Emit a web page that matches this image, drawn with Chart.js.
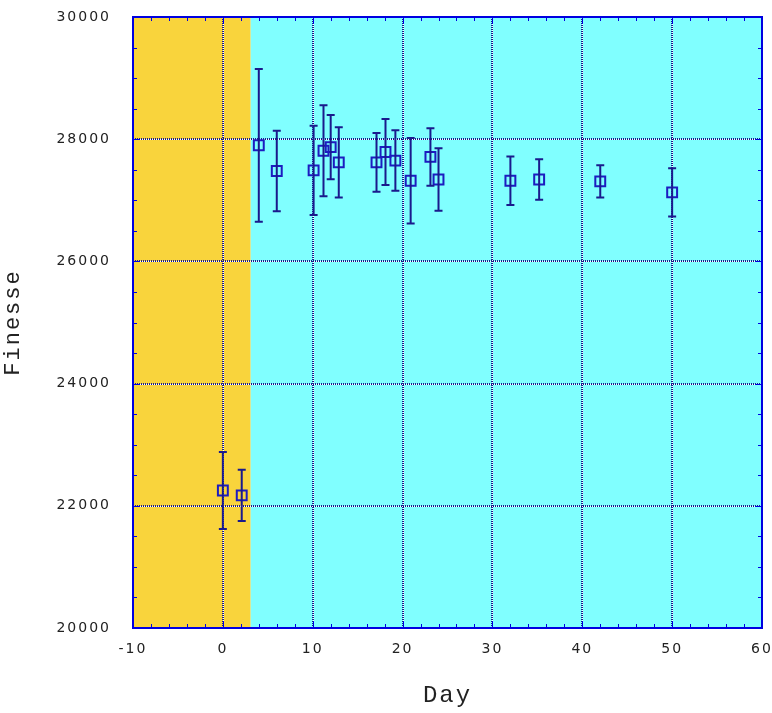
<!DOCTYPE html>
<html>
<head>
<meta charset="utf-8">
<script src="https://cdn.jsdelivr.net/npm/chart.js@4.4.1/dist/chart.umd.min.js"></script>
<style>
  html, body { margin: 0; padding: 0; background: #fff; }
  #wrap { width: 772px; height: 713px; }
</style>
</head>
<body>
<div id="wrap"><canvas id="myChart"></canvas></div>
<script>
// Datos
const days = [0, 2.1, 4, 6, 10.1, 11.2, 12, 12.9, 17.1, 18.1, 19.2, 20.9, 23.1, 24, 32, 35.2, 42, 50];
const finesse = [22250, 22170, 27900, 27480, 27490, 27810, 27870, 27620, 27620, 27790, 27650, 27320, 27710, 27340, 27320, 27340, 27310, 27130];
const errors = [630, 420, 1250, 660, 730, 745, 525, 575, 480, 540, 495, 700, 470, 510, 395, 330, 265, 395];

// Zonas de fondo (día inicial, día final)
const zoneEdges = [-10, 3.1, 60];
const zoneColors = ['#f9d43c', '#80ffff'];

const xTicks = [-10, 0, 10, 20, 30, 40, 50, 60];
const yTicks = [20000, 22000, 24000, 26000, 28000, 30000];

const navy = '#1a1a8c';
const blue = '#1c1cc0';

// Espaciado de letras como en el original
const spacingPlugin = {
  id: 'spacing',
  beforeLayout(chart) { chart.ctx.letterSpacing = '2px'; },
  beforeDraw(chart) { chart.ctx.letterSpacing = '2px'; }
};

// Fondo de colores y líneas blancas bajo la rejilla
const backgroundPlugin = {
  id: 'zones',
  beforeDraw(chart) {
    const { ctx, chartArea: a, scales: { x, y } } = chart;
    ctx.save();
    for (let i = 0; i < zoneColors.length; i++) {
      const x0 = x.getPixelForValue(zoneEdges[i]);
      const x1 = x.getPixelForValue(zoneEdges[i + 1]);
      ctx.fillStyle = zoneColors[i];
      ctx.fillRect(x0, a.top, x1 - x0, a.bottom - a.top);
    }
    ctx.strokeStyle = '#ffffff';
    ctx.lineWidth = 1;
    ctx.beginPath();
    xTicks.slice(1, -1).forEach(v => {
      const px = Math.round(x.getPixelForValue(v)) + 0.5;
      ctx.moveTo(px, a.top); ctx.lineTo(px, a.bottom);
    });
    yTicks.slice(1, -1).forEach(v => {
      const py = Math.round(y.getPixelForValue(v)) + 0.5;
      ctx.moveTo(a.left, py); ctx.lineTo(a.right, py);
    });
    ctx.stroke();
    ctx.restore();
  }
};

// Barras de error
const errorBarPlugin = {
  id: 'errorBars',
  afterDatasetsDraw(chart) {
    const { ctx, scales: { x, y } } = chart;
    ctx.save();
    ctx.strokeStyle = navy;
    ctx.lineWidth = 2;
    days.forEach((d, i) => {
      const px = x.getPixelForValue(d);
      const top = y.getPixelForValue(finesse[i] + errors[i]);
      const bot = y.getPixelForValue(finesse[i] - errors[i]);
      ctx.beginPath();
      ctx.moveTo(px, top); ctx.lineTo(px, bot);
      ctx.moveTo(px - 4, top); ctx.lineTo(px + 4, top);
      ctx.moveTo(px - 4, bot); ctx.lineTo(px + 4, bot);
      ctx.stroke();
    });
    ctx.restore();
  }
};

// Marco y marcas menores
const framePlugin = {
  id: 'frame',
  afterDraw(chart) {
    const { ctx, chartArea: a, scales: { x, y } } = chart;
    ctx.save();
    ctx.strokeStyle = '#0000e0';
    ctx.lineWidth = 1;
    ctx.beginPath();
    for (let v = -10; v <= 60; v += 2) {
      const px = Math.round(x.getPixelForValue(v)) + 0.5;
      const len = v % 10 === 0 ? 7 : 4;
      ctx.moveTo(px, a.bottom); ctx.lineTo(px, a.bottom - len);
      ctx.moveTo(px, a.top); ctx.lineTo(px, a.top + len);
    }
    for (let v = 20000; v <= 30000; v += 500) {
      const py = Math.round(y.getPixelForValue(v)) + 0.5;
      const len = v % 2000 === 0 ? 7 : 4;
      ctx.moveTo(a.left, py); ctx.lineTo(a.left + len, py);
      ctx.moveTo(a.right, py); ctx.lineTo(a.right - len, py);
    }
    ctx.stroke();
    ctx.lineWidth = 2;
    ctx.strokeRect(a.left, a.top, a.right - a.left, a.bottom - a.top);
    ctx.restore();
  }
};

const ctx = document.getElementById('myChart').getContext('2d');
const myChart = new Chart(ctx, {
  type: 'scatter',
  data: {
    datasets: [{
      label: 'Finesse',
      data: days.map((d, i) => ({ x: d, y: finesse[i] })),
      pointStyle: 'rect',
      pointRadius: 7,
      pointHoverRadius: 7,
      borderColor: blue,
      borderWidth: 2,
      backgroundColor: 'rgba(0,0,0,0)'
    }]
  },
  options: {
    responsive: true,
    maintainAspectRatio: false,
    animation: false,
    events: [],
    layout: { padding: { top: 17, right: 10, left: 0, bottom: 0 } },
    plugins: {
      legend: { display: false },
      tooltip: { enabled: false }
    },
    scales: {
      x: {
        type: 'linear',
        min: -10,
        max: 60,
        afterBuildTicks: s => { s.ticks = xTicks.map(v => ({ value: v })); },
        afterFit: s => { s.height = 85; s.paddingLeft = 0; s.paddingRight = 0; },
        grid: { color: navy, lineWidth: 2, drawTicks: false },
        border: { display: false, dash: [1, 1] },
        ticks: {
          padding: 13,
          color: '#222',
          font: { family: 'DejaVu Sans', size: 14 },
          maxRotation: 0,
          callback: v => String(v)
        },
        title: {
          display: true,
          text: 'Day',
          color: '#222',
          font: { family: 'Liberation Mono', size: 24 },
          padding: { top: 0, bottom: 3 }
        }
      },
      y: {
        min: 20000,
        max: 30000,
        afterBuildTicks: s => { s.ticks = yTicks.map(v => ({ value: v })); },
        afterFit: s => { s.width = 133; s.paddingTop = 0; s.paddingBottom = 0; },
        grid: { color: navy, lineWidth: 2, drawTicks: false },
        border: { display: false, dash: [1, 1] },
        ticks: {
          padding: 22,
          color: '#222',
          font: { family: 'DejaVu Sans', size: 14 },
          callback: v => String(v)
        },
        title: {
          display: true,
          text: 'Finesse',
          color: '#222',
          font: { family: 'Liberation Mono', size: 22 },
          padding: { top: 0, bottom: 0 }
        }
      }
    }
  },
  plugins: [spacingPlugin, backgroundPlugin, errorBarPlugin, framePlugin]
});
</script>
</body>
</html>
